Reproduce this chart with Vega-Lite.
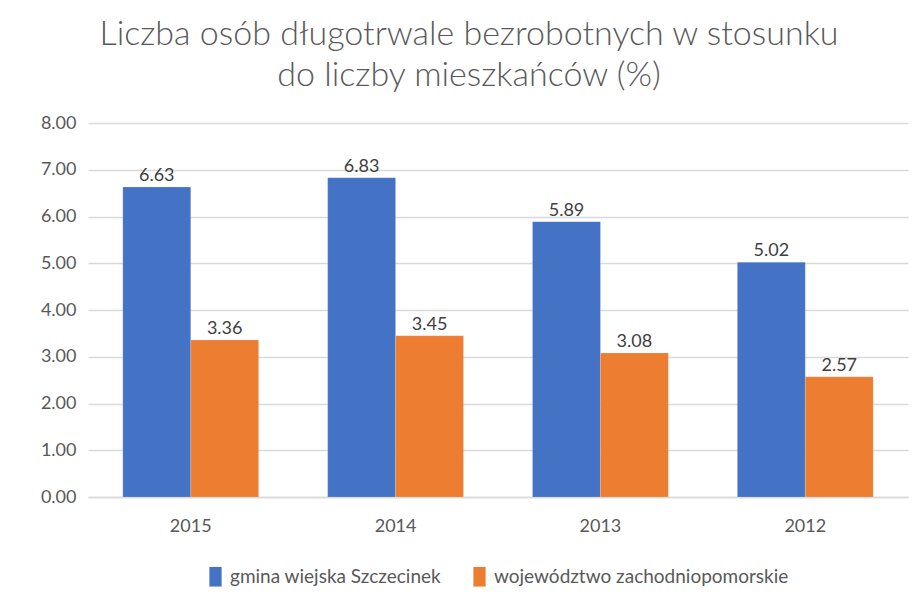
{
  "$schema": "https://vega.github.io/schema/vega-lite/v6.json",
  "width": 820,
  "height": 374,
  "autosize": "none",
  "padding": {"left": 88, "top": 123, "right": 13, "bottom": 112},
  "background": "white",
  "title": {
    "text": ["Liczba osób długotrwale bezrobotnych w stosunku", "do liczby mieszkańców (%)"],
    "anchor": "middle",
    "frame": "group",
    "dx": -29,
    "font": "Lato",
    "fontSize": 34,
    "fontWeight": 300,
    "color": "#595959",
    "lineHeight": 41,
    "offset": 21
  },
  "data": {
    "values": [
      {"rok": "2015", "seria": "gmina wiejska Szczecinek", "wartosc": 6.63},
      {"rok": "2015", "seria": "województwo zachodniopomorskie", "wartosc": 3.36},
      {"rok": "2014", "seria": "gmina wiejska Szczecinek", "wartosc": 6.83},
      {"rok": "2014", "seria": "województwo zachodniopomorskie", "wartosc": 3.45},
      {"rok": "2013", "seria": "gmina wiejska Szczecinek", "wartosc": 5.89},
      {"rok": "2013", "seria": "województwo zachodniopomorskie", "wartosc": 3.08},
      {"rok": "2012", "seria": "gmina wiejska Szczecinek", "wartosc": 5.02},
      {"rok": "2012", "seria": "województwo zachodniopomorskie", "wartosc": 2.57}
    ]
  },
  "encoding": {
    "x": {
      "field": "rok",
      "type": "nominal",
      "sort": null,
      "scale": {"paddingInner": 0.337, "paddingOuter": 0.17},
      "axis": {
        "title": null,
        "labelAngle": 0,
        "labelFont": "Lato",
        "labelFontSize": 18,
        "labelColor": "#595959",
        "labelPadding": 20,
        "ticks": false,
        "domain": true,
        "domainColor": "#D9D9D9",
        "domainWidth": 1.5
      }
    },
    "xOffset": {
      "field": "seria",
      "type": "nominal",
      "sort": null,
      "scale": {"paddingInner": 0, "paddingOuter": 0}
    },
    "y": {
      "field": "wartosc",
      "type": "quantitative",
      "scale": {"domain": [0, 8]},
      "axis": {
        "title": null,
        "values": [0, 1, 2, 3, 4, 5, 6, 7, 8],
        "format": ".2f",
        "labelFont": "Lato",
        "labelFontSize": 18,
        "labelColor": "#595959",
        "labelPadding": 12,
        "ticks": false,
        "domain": false,
        "grid": true,
        "gridColor": "#D9D9D9",
        "gridWidth": 1.5
      }
    }
  },
  "layer": [
    {
      "mark": {"type": "bar", "stroke": "white", "strokeOpacity": 0.3, "strokeWidth": 0.5},
      "encoding": {
        "color": {
          "field": "seria",
          "type": "nominal",
          "sort": null,
          "scale": {"range": ["#4472C4", "#ED7D31"]},
          "legend": {
            "title": null,
            "orient": "none",
            "direction": "horizontal",
            "legendX": 118,
            "legendY": 444,
            "labelFont": "Lato",
            "labelFontSize": 19,
            "labelColor": "#595959",
            "labelLimit": 500,
            "labelOffset": 5,
            "columnPadding": 28,
            "symbolType": "M-1,-1.6L1,-1.6L1,1.6L-1,1.6Z",
            "symbolSize": 150,
            "symbolStrokeWidth": 0,
            "symbolOpacity": 1
          }
        }
      }
    },
    {
      "mark": {"type": "text", "baseline": "alphabetic", "dy": -6, "font": "Lato", "fontSize": 18, "color": "#404040"},
      "encoding": {
        "text": {"field": "wartosc", "type": "quantitative", "format": ".2f"}
      }
    }
  ],
  "config": {
    "view": {"stroke": null}
  }
}
